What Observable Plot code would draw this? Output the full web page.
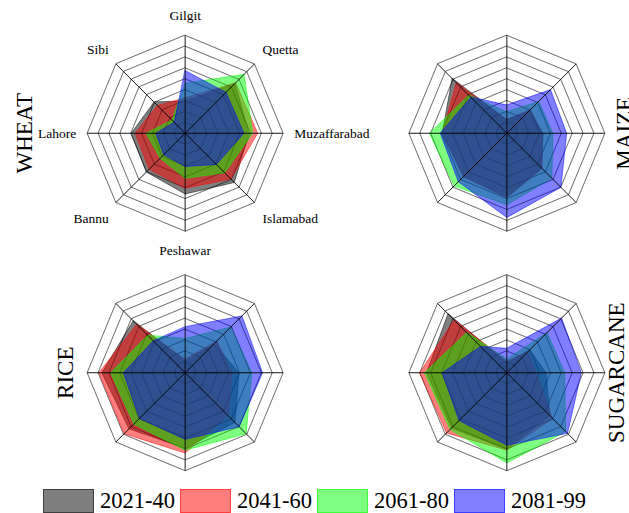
<!DOCTYPE html>
<html>
<head>
<meta charset="utf-8">
<script src="https://cdn.jsdelivr.net/npm/d3@7"></script>
<script src="https://cdn.jsdelivr.net/npm/@observablehq/plot@0.6"></script>
<style>
  body { margin: 0; background: #fff; }
  #chart { width: 629px; }
  .legend { display: flex; justify-content: center; align-items: center; margin-top: 8px;
            font-family: "Liberation Serif", "Times New Roman", "DejaVu Serif", serif; font-size: 22.5px; line-height: 25px; color: #000; }
  .legend .item { display: flex; align-items: center; margin: 0 2.5px; font-family: inherit; }
  .legend .sw { width: 51px; height: 24px; box-sizing: border-box; margin-right: 6px; border-width: 1px; border-style: solid; }
  .legend .lab { font-family: "Liberation Serif", serif; }
</style>
</head>
<body>
<div id="chart"></div>
<div class="legend" id="legend"></div>
<script>
// Stations around each radar, clockwise from the top
const regions = ["Gilgit", "Quetta", "Muzaffarabad", "Islamabad", "Peshawar", "Bannu", "Lahore", "Sibi"];
const periods = ["2021-40", "2041-60", "2061-80", "2081-99"];
const crops = ["WHEAT", "MAIZE", "RICE", "SUGARCANE"];

// Relative change per station (outer ring = 1), one row per period
const wheat = [
  [0.33, 0.72, 0.65, 0.71, 0.62, 0.56, 0.55, 0.45],
  [0.36, 0.73, 0.74, 0.66, 0.56, 0.52, 0.51, 0.40],
  [0.51, 0.85, 0.69, 0.57, 0.46, 0.36, 0.40, 0.19],
  [0.64, 0.59, 0.60, 0.45, 0.34, 0.31, 0.30, 0.16]
];
const maize = [
  [0.14, 0.33, 0.37, 0.50, 0.65, 0.62, 0.66, 0.79],
  [0.14, 0.34, 0.36, 0.51, 0.66, 0.63, 0.66, 0.73],
  [0.22, 0.46, 0.47, 0.65, 0.73, 0.76, 0.79, 0.55],
  [0.29, 0.63, 0.61, 0.78, 0.86, 0.70, 0.68, 0.52]
];
const rice = [
  [0.12, 0.42, 0.55, 0.72, 0.77, 0.81, 0.85, 0.75],
  [0.14, 0.46, 0.48, 0.62, 0.82, 0.88, 0.88, 0.70],
  [0.35, 0.66, 0.68, 0.88, 0.79, 0.74, 0.76, 0.54],
  [0.47, 0.82, 0.79, 0.78, 0.68, 0.66, 0.63, 0.46]
];
const sugarcane = [
  [0.10, 0.33, 0.40, 0.62, 0.78, 0.80, 0.82, 0.85],
  [0.12, 0.30, 0.30, 0.66, 0.79, 0.87, 0.89, 0.76],
  [0.14, 0.58, 0.59, 0.85, 0.92, 0.82, 0.84, 0.58],
  [0.25, 0.79, 0.76, 0.875, 0.74, 0.69, 0.66, 0.38]
];

// Styling and layout
const colors = ["black", "red", "lime", "blue"];
const ringCount = 9;
const PX = 98; // pixels per unit radius
const cropValues = {WHEAT: wheat, MAIZE: maize, RICE: rice, SUGARCANE: sugarcane};
const panel = {WHEAT: [0, 0], MAIZE: [1, 0], RICE: [0, 1], SUGARCANE: [1, 1]};
const titleX = {WHEAT: -161, MAIZE: 118, RICE: -120, SUGARCANE: 109.5};

const angle = i => i * 2 * Math.PI / regions.length;
const px = i => Math.sin(angle(i));
const py = i => Math.cos(angle(i));

const points = crops.flatMap(crop => periods.flatMap((period, k) => regions.map((region, i) => ({
  crop, period, i, value: cropValues[crop][k][i], col: panel[crop][0], row: panel[crop][1]
}))));

const rings = crops.flatMap(crop => d3.range(1, ringCount + 1).flatMap(level => regions.map((region, i) => ({
  crop, level: level / ringCount, i, col: panel[crop][0], row: panel[crop][1]
}))));

const spokes = crops.flatMap(crop => regions.map((region, i) => ({
  crop, i, col: panel[crop][0], row: panel[crop][1]
})));

// Station names, shown around the first radar only
const labelOffset = i => {
  const s = px(i), c = py(i);
  const ox = Math.abs(s) < 0.1 ? 0 : Math.sign(s) * (Math.abs(s) > 0.9 ? 11 : (s > 0 ? 8 : 7));
  const oy = Math.abs(c) < 0.1 ? 0 : c > 0 ? (c > 0.9 ? 19.5 : 14) : -(c < -0.9 ? 19 : 16.3);
  return [ox, oy];
};
const labels = regions.map((region, i) => {
  const [ox, oy] = labelOffset(i);
  const s = px(i);
  return {
    region, col: 0, row: 0,
    x: px(i) + ox / PX, y: py(i) + oy / PX,
    anchor: Math.abs(s) < 0.1 ? "middle" : s > 0 ? "start" : "end"
  };
});

const titles = crops.map(crop => ({crop, col: panel[crop][0], row: panel[crop][1], x: titleX[crop] / PX}));

const facet = {fx: "col", fy: "row"};

const chart = Plot.plot({
  width: 629,
  height: 480,
  marginLeft: 64,
  marginRight: 2,
  marginTop: 25,
  marginBottom: 0,
  x: {domain: [-1.231, 1.231], axis: null},
  y: {domain: [-1.0998, 1.0998], axis: null},
  fx: {axis: null, domain: [0, 1], paddingInner: 0.25, paddingOuter: 0, round: false},
  fy: {axis: null, domain: [0, 1], paddingInner: 0.1, paddingOuter: 0, round: false},
  color: {domain: periods, range: colors},
  style: {fontFamily: "'Liberation Serif', 'Times New Roman', serif", fontSize: "13.5px", background: "white", color: "black"},
  marks: [
    Plot.line(rings, {...facet, x: d => d.level * px(d.i), y: d => d.level * py(d.i), z: d => d.level,
      curve: "linear-closed", stroke: "black", strokeOpacity: 0.5, strokeWidth: 1}),
    Plot.line(points, {...facet, x: d => d.value * px(d.i), y: d => d.value * py(d.i), z: "period",
      curve: "linear-closed", fill: "period", stroke: "period", fillOpacity: 0.5, strokeOpacity: 0.5, strokeWidth: 1}),
    Plot.line(rings, {...facet, x: d => d.level * px(d.i), y: d => d.level * py(d.i), z: d => d.level,
      curve: "linear-closed", stroke: "black", strokeOpacity: 0.12, strokeWidth: 1}),
    Plot.link(spokes, {...facet, x1: d => 0, y1: d => 0, x2: d => px(d.i), y2: d => py(d.i),
      stroke: "black", strokeOpacity: 0.9, strokeWidth: 1}),
    ...["start", "middle", "end"].map(anchor =>
      Plot.text(labels.filter(d => d.anchor === anchor), {...facet, x: "x", y: "y", text: "region",
        textAnchor: anchor, lineAnchor: "middle", fill: "black", fontSize: 13.5})),
    Plot.text(titles, {...facet, x: "x", y: d => 0, text: "crop", rotate: -90,
      textAnchor: "middle", lineAnchor: "middle", fill: "black", fontSize: 23})
  ]
});
document.getElementById("chart").append(chart);

// Legend swatches below the radars
const rgb = {black: "0,0,0", red: "255,0,0", lime: "0,255,0", blue: "0,0,255"};
const legend = document.getElementById("legend");
periods.forEach((p, k) => {
  const item = document.createElement("div");
  item.className = "item";
  const sw = document.createElement("span");
  sw.className = "sw";
  sw.style.background = `rgba(${rgb[colors[k]]},0.5)`;
  sw.style.borderColor = `rgba(${rgb[colors[k]]},0.5)`;
  const t = document.createElement("span");
  t.className = "lab";
  t.textContent = p;
  item.append(sw, t);
  legend.append(item);
});
</script>
</body>
</html>
